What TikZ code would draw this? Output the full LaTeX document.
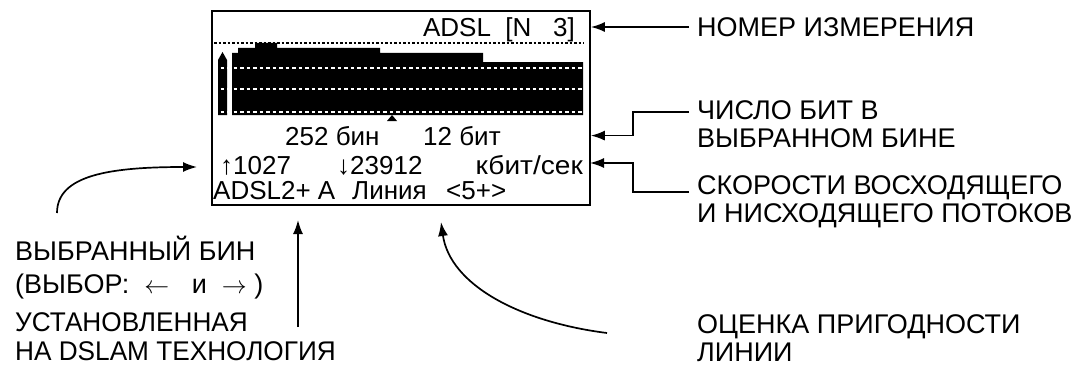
\documentclass[tikz,border=0pt]{standalone}
\usepackage{fontspec}
\setmainfont{Liberation Sans}
\usetikzlibrary{arrows.meta,positioning,calc}
\newcommand{\squeeze}[2]{\scalebox{#1}[1]{#2}}
\tikzset{
  lcd/.style={font=\fontsize{26}{30}\selectfont, inner sep=0pt},
  note/.style={font=\fontsize{27}{28}\selectfont, align=left, inner sep=0pt, anchor=west},
  pointer/.style={-{Latex[length=14pt,width=10pt]}, line width=1.7pt},
  gridline/.style={white, line width=2.8pt, dash pattern=on 3.5pt off 3pt},
}

\begin{document}
\begin{tikzpicture}[x=1pt,y=-1pt]
  \useasboundingbox (0,0) rectangle (1083,369);
  % the screen
  \node[draw, line width=1.6pt, minimum width=378pt, minimum height=194pt, inner sep=0pt] (screen) at (401,108) {};
  \draw[line width=2pt, dash pattern=on 2.5pt off 2pt] (214,43) -- (584,43);
  \fill (218,115) -- (218,60) -- (222.5,52) -- (227,60) -- (227,115) -- cycle;
  \fill (232,115) -- (232,53) -- (238,53) -- (238,48) -- (255,48) -- (255,43) -- (277,43)
    -- (277,48) -- (380,48) -- (380,53) -- (483,53) -- (483,62) -- (583,62) -- (583,115) -- cycle;
  \foreach \y in {68,89,112} \draw[gridline] (214,\y) -- (584,\y);
  \fill (387,121) -- (392,115) -- (397,121) -- cycle;
  \node[lcd, anchor=base east] (meas) at (575,37) {ADSL\ \ [N\ \ \ 3]};
  \node[lcd, anchor=base west] (bin) at (285,145) {252 бин};
  \node[lcd, anchor=base west] (bits) at (423,145) {12 бит};
  \node[lcd, anchor=base west] (up) at (220,174) {↑1027};
  \node[lcd, anchor=base west] (down) at (337,174) {↓23912};
  \node[lcd, anchor=base east] (rate) at (583,174) {\squeeze{1.08}{кбит/сек}};
  \node[lcd, anchor=base west] (tech) at (213,199) {ADSL2+ A};
  \node[lcd, anchor=base west] (line) at (352,199) {Линия};
  \node[lcd, anchor=base west] (grade) at (446,199) {<5+>};
  % notes
  \node[note] (num) at (697,27) {НОМЕР ИЗМЕРЕНИЯ};
  \node[note] (bitsnote) at (697,124) {ЧИСЛО БИТ В\\ВЫБРАННОМ БИНЕ};
  \node[note] (ratenote) at (697,202) {СКОРОСТИ ВОСХОДЯЩЕГО\\И НИСХОДЯЩЕГО ПОТОКОВ};
  \node[note, font=\fontsize{27}{33}\selectfont] (selnote) at (15,268) {ВЫБРАННЫЙ БИН\\(ВЫБОР:\ \ $\leftarrow$\ \ \ и\ \ $\rightarrow$\ )};
  \node[note, font=\fontsize{27}{29}\selectfont] (technote) at (15,337) {\squeeze{0.97}{УСТАНОВЛЕННАЯ}\\\squeeze{0.97}{НА DSLAM ТЕХНОЛОГИЯ}};
  \node[note] (gradenote) at (697,338) {ОЦЕНКА ПРИГОДНОСТИ\\ЛИНИИ};
  % pointers
  \coordinate (bitsfrom) at (689,112);
  \coordinate (ratefrom) at (689,192);
  \coordinate (rateto) at (590,163);
  \coordinate (selfrom) at (57,213);
  \coordinate (selto) at (197,167);
  \coordinate (techfrom) at (298,327);
  \coordinate (techto) at (298,220);
  \coordinate (gradefrom) at (607,333);
  \coordinate (gradeto) at (441,222);
  \draw[pointer] ([xshift=-8pt]num.west) -- (num.west -| screen.east);
  \draw[pointer] (bitsfrom) -- ++(-56,0) |- (bits -| screen.east);
  \draw[pointer] (ratefrom) -- ++(-56,0) |- (rateto);
  \draw[pointer] (selfrom) .. controls (57,175) and (110,167) .. (selto);
  \draw[pointer] (techfrom) -- (techto);
  \draw[pointer] (gradefrom) .. controls (520,322) and (450,285) .. (gradeto);
\end{tikzpicture}
\end{document}
